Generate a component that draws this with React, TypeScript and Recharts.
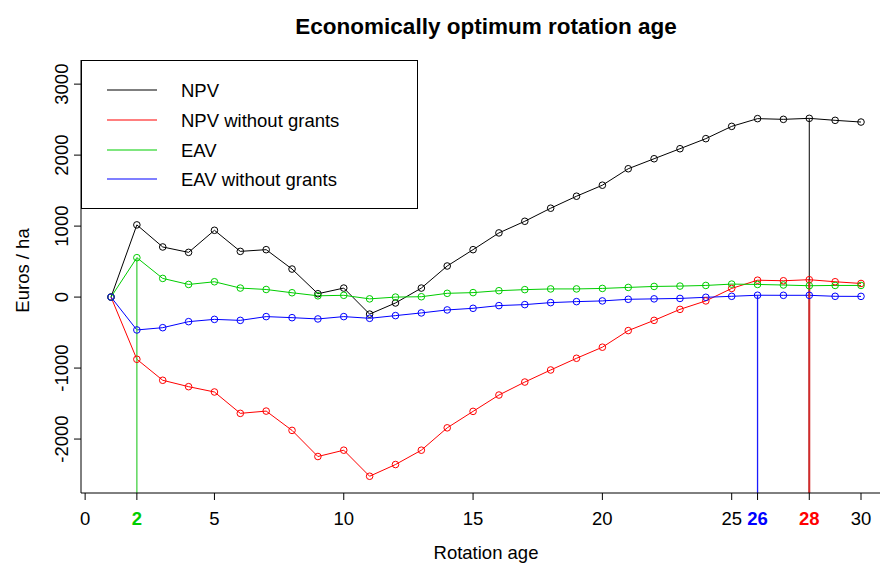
import React from 'react';
import { LineChart, Line, XAxis, YAxis, ReferenceLine, Label } from 'recharts';

// ---- data ----
const ages = [1, 2, 3, 4, 5, 6, 7, 8, 9, 10, 11, 12, 13, 14, 15, 16, 17, 18, 19, 20, 21, 22, 23, 24, 25, 26, 27, 28, 29, 30];
const npv = [0, 1017, 706, 630, 941, 644, 668, 395, 47, 127, -240, -83, 127, 438, 668, 904, 1068, 1252, 1421, 1576, 1808, 1949, 2090, 2232, 2405, 2514, 2504, 2518, 2490, 2466];
const npvNoGrants = [0, -876, -1172, -1262, -1337, -1638, -1606, -1878, -2246, -2157, -2524, -2359, -2157, -1842, -1610, -1380, -1197, -1027, -862, -706, -472, -328, -173, -54, 122, 238, 230, 245, 216, 192];
const eav = [0, 555, 263, 178, 216, 127, 107, 61, 18, 25, -25, 0, 5, 53, 63, 90, 105, 115, 115, 122, 136, 150, 155, 164, 183, 178, 170, 160, 164, 164];
const eavNoGrants = [0, -463, -431, -346, -314, -328, -275, -290, -308, -275, -299, -261, -223, -181, -158, -120, -106, -78, -64, -54, -31, -25, -19, -3, 11, 26, 25, 25, 11, 10];

const seriesNames = ['NPV', 'NPV without grants', 'EAV', 'EAV without grants'];
const seriesKeys = ['npv', 'npvNo', 'eav', 'eavNo'];
const seriesColors = ['#000000', '#ff0000', '#00cd00', '#0000ff'];
const seriesValues = [npv, npvNoGrants, eav, eavNoGrants];

const baseXTicks = [0, 5, 10, 15, 20, 25, 30];
const yTicks = [-2000, -1000, 0, 1000, 2000, 3000];
const xDomain = [-0.16, 31.16];
const yDomain = [-2760, 3340];

const title = 'Economically optimum rotation age';
const xLabel = 'Rotation age';
const yLabel = 'Euros / ha';

// ---- derived ----
const data = ages.map((a, i) => {
  const row: Record<string, number> = { age: a };
  seriesKeys.forEach((k, s) => { row[k] = seriesValues[s][i]; });
  return row;
});

const argmaxAge = (vals: number[]) => {
  let best = 0;
  vals.forEach((v, i) => { if (v > vals[best]) best = i; });
  return ages[best];
};
const optimumAges = seriesValues.map(argmaxAge);

// draw order of vertical markers (later overrides tick colour)
const markerOrder = [0, 2, 3, 1];
const tickColor: Record<number, string> = {};
markerOrder.forEach((s) => { tickColor[optimumAges[s]] = seriesColors[s]; });
const highlightTicks = [optimumAges[2], optimumAges[3], optimumAges[1]];
const allXTicks = Array.from(new Set([...baseXTicks, ...highlightTicks])).sort((a, b) => a - b);

const FONT = '"Liberation Sans", Arial, Helvetica, sans-serif';
const FS = 18.5;

const XTick = (props: any) => {
  const { x, y, payload } = props;
  const v = payload.value;
  const hl = highlightTicks.includes(v) ? tickColor[v] : undefined;
  return (
    <text x={x} y={y + 12} dy="0.71em" textAnchor="middle" fill={hl || '#000'}
      fontWeight={hl ? 'bold' : 'normal'} fontSize={FS} fontFamily={FONT}>
      {v}
    </text>
  );
};

const YTick = (props: any) => {
  const { x, y, payload } = props;
  return (
    <text x={x + 1} y={y} transform={`rotate(-90 ${x + 1} ${y})`} textAnchor="middle" fill="#000"
      fontSize={FS} fontFamily={FONT}>
      {payload.value}
    </text>
  );
};

const XLabel = (props: any) => {
  const { viewBox } = props;
  return (
    <text x={viewBox.x + viewBox.width / 2} y={viewBox.y + 66} textAnchor="middle" fill="#000"
      fontSize={FS} fontFamily={FONT}>{xLabel}</text>
  );
};

const YLabel = (props: any) => {
  const { viewBox } = props;
  const cx = viewBox.x + 29;
  const cy = viewBox.y + viewBox.height / 2 - 6;
  return (
    <text x={cx} y={cy} transform={`rotate(-90 ${cx} ${cy})`} textAnchor="middle" fill="#000"
      fontSize={FS} fontFamily={FONT}>{yLabel}</text>
  );
};

const markerStyles = [
  { stroke: '#000000', width: 1 },
  { stroke: '#d42a2a', width: 2 },
  { stroke: '#44d044', width: 1.3 },
  { stroke: '#1a1aff', width: 1.3 },
];

const legendRowTops = [17, 47, 77, 106];

export default function App() {
  return (
    <div style={{ position: 'absolute', left: 0, top: 0, width: 880, height: 563, overflow: 'hidden', background: '#fff', fontFamily: FONT }}>
      <div style={{ position: 'absolute', left: 81, width: 810, top: 15, textAlign: 'center', fontSize: 22.5, lineHeight: '23px', fontWeight: 'bold', color: '#000' }}>
        {title}
      </div>
      <LineChart width={891} height={563} data={data} margin={{ top: 60, right: 0, left: 0, bottom: 0 }}>
        <XAxis xAxisId={0} dataKey="age" type="number" domain={xDomain} allowDataOverflow ticks={allXTicks} interval={0}
          height={70} tickSize={7} tickMargin={0} axisLine={{ stroke: '#000' }} tickLine={{ stroke: '#000' }} tick={<XTick />}>
          <Label content={<XLabel />} />
        </XAxis>
        <XAxis xAxisId="top" dataKey="age" type="number" domain={xDomain} allowDataOverflow orientation="top" height={0}
          tick={false} tickLine={false} axisLine={{ stroke: '#000' }} />
        <YAxis type="number" domain={yDomain} allowDataOverflow ticks={yTicks} interval={0} width={81}
          tickSize={7} tickMargin={7} axisLine={{ stroke: '#000' }} tickLine={{ stroke: '#000' }} tick={<YTick />}>
          <Label content={<YLabel />} />
        </YAxis>
        {seriesKeys.map((k, s) => (
          <Line key={k} xAxisId={0} type="linear" dataKey={k} name={seriesNames[s]} stroke={seriesColors[s]} strokeWidth={1}
            dot={{ r: 3.3, stroke: seriesColors[s], strokeWidth: 1, fill: 'none' }} activeDot={false}
            isAnimationActive={false} legendType="none" />
        ))}
        {markerOrder.map((s) => {
          const age = optimumAges[s];
          const val = seriesValues[s][ages.indexOf(age)];
          return (
            <ReferenceLine key={'m' + s} xAxisId={0} segment={[{ x: age, y: val }, { x: age, y: yDomain[0] }]}
              stroke={markerStyles[s].stroke} strokeWidth={markerStyles[s].width} ifOverflow="visible" />
          );
        })}
      </LineChart>
      <div style={{ position: 'absolute', left: 81, top: 60, width: 337, height: 149, border: '1px solid #000', boxSizing: 'border-box', background: '#fff' }}>
        {seriesNames.map((n, i) => (
          <div key={n} style={{ position: 'absolute', left: 25, top: legendRowTops[i], height: 24, display: 'flex', alignItems: 'center' }}>
            <svg width={50} height={4} style={{ display: 'block' }}>
              <line x1={0} x2={50} y1={2} y2={2} stroke={seriesColors[i]} strokeWidth={1.2} />
            </svg>
            <span style={{ marginLeft: 24, fontSize: FS, color: '#000', whiteSpace: 'nowrap', position: 'relative', top: 1 }}>{n}</span>
          </div>
        ))}
      </div>
    </div>
  );
}
